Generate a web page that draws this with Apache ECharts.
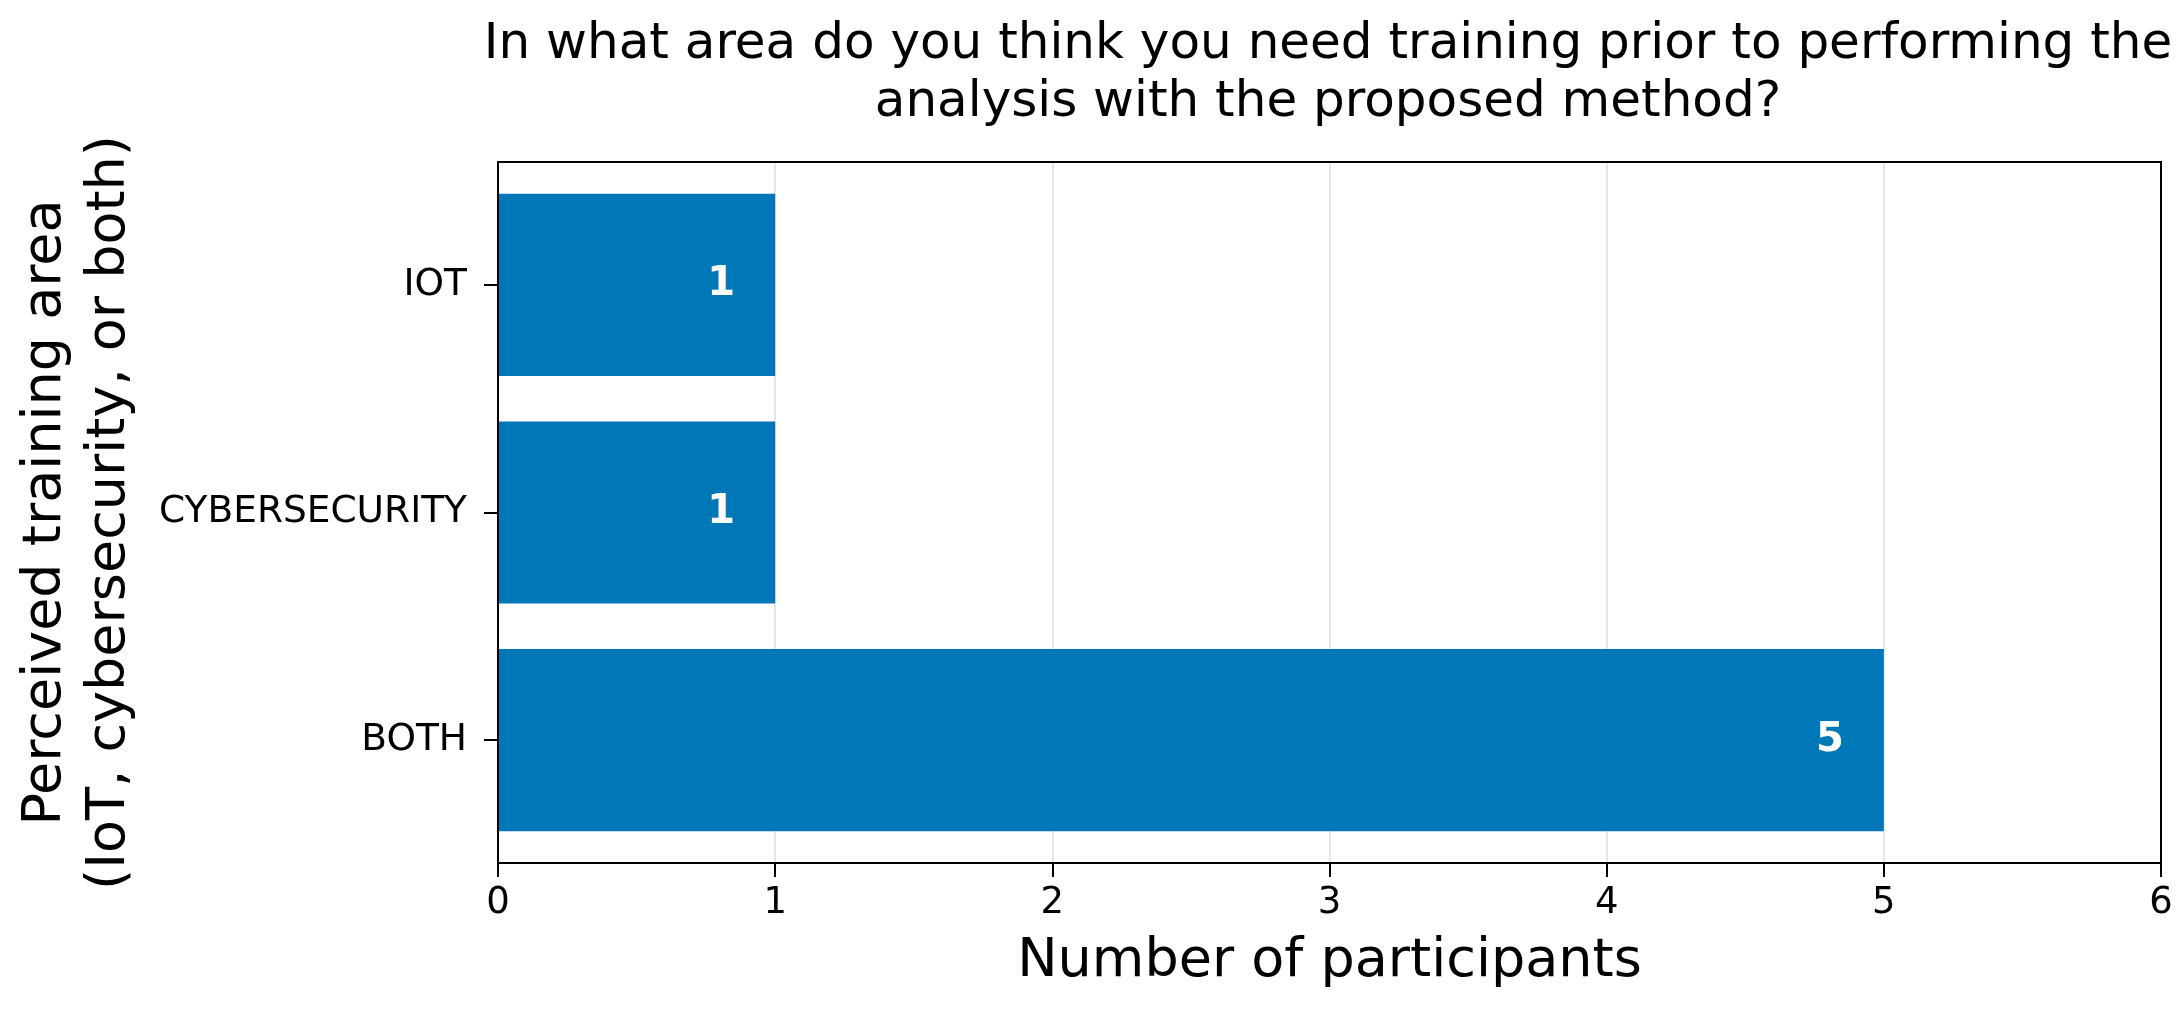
<!DOCTYPE html>
<html>
<head>
<meta charset="utf-8">
<script src="https://cdn.jsdelivr.net/npm/echarts@6/dist/echarts.min.js"></script>
<style>
  html, body { margin: 0; padding: 0; background: #fff; }
  #chart { width: 2183px; height: 1016px; }
</style>
</head>
<body>
<div id="chart"></div>
<script>
// categories from bottom to top
const areas = ['BOTH', 'CYBERSECURITY', 'IOT']
const participants = [5, 1, 1]
const xTicks = [0, 1, 2, 3, 4, 5, 6]

const titleText = 'In what area do you think you need training prior to performing the\nanalysis with the proposed method?'
const xName = 'Number of participants'
const yName = 'Perceived training area\n(IoT, cybersecurity, or both)'

const font = 'DejaVu Sans'
const chart = echarts.init(document.getElementById('chart'))

const option = {
  backgroundColor: '#fff',
  animation: false,
  title: {
    text: titleText,
    left: 1328,
    top: 16,
    padding: 0,
    textAlign: 'center',
    textStyle: { fontFamily: font, fontSize: 50, fontWeight: 'normal', color: '#000', lineHeight: 58 }
  },
  grid: [
    // outer frame, x axis and grid lines
    { left: 498, right: 22, top: 162, bottom: 153, show: true, borderColor: '#000', borderWidth: 2, backgroundColor: 'transparent', z: 3 },
    // bar area (matplotlib margins inside the frame)
    { left: 498, right: 22, top: 171, bottom: 162 }
  ],
  xAxis: [
    {
      gridIndex: 0,
      type: 'value',
      min: xTicks[0],
      max: xTicks[xTicks.length - 1],
      interval: 1,
      name: xName,
      nameLocation: 'middle',
      nameGap: 72,
      nameTextStyle: { fontFamily: font, fontSize: 54, color: '#000' },
      axisLine: { show: true, lineStyle: { color: '#000', width: 2 } },
      axisTick: { show: true, length: 14, lineStyle: { color: '#000', width: 2 } },
      axisLabel: { margin: 22, fontFamily: font, fontSize: 37, color: '#000' },
      splitLine: { show: true, showMinLine: false, showMaxLine: false, lineStyle: { color: '#e6e6e6', width: 2 } }
    },
    {
      gridIndex: 1,
      type: 'value',
      min: xTicks[0],
      max: xTicks[xTicks.length - 1],
      show: false
    }
  ],
  yAxis: [
    { gridIndex: 0, type: 'value', min: 0, max: 1, show: false },
    {
      gridIndex: 1,
      type: 'category',
      data: areas,
      name: yName,
      nameLocation: 'middle',
      nameRotate: 90,
      nameGap: 356,
      nameTextStyle: { fontFamily: font, fontSize: 54, color: '#000', lineHeight: 64, align: 'center' },
      axisLine: { show: false },
      axisTick: { show: true, alignWithLabel: true, length: 14, lineStyle: { color: '#000', width: 2 } },
      axisLabel: { margin: 31, fontFamily: font, fontSize: 37.5, color: '#000' },
      splitLine: { show: false }
    }
  ],
  series: [
    {
      type: 'bar',
      xAxisIndex: 1,
      yAxisIndex: 1,
      data: participants,
      barCategoryGap: '20%',
      itemStyle: { color: '#0077b6' },
      label: {
        show: true,
        position: 'insideRight',
        distance: 40,
        fontFamily: font,
        fontSize: 40,
        fontWeight: 'bold',
        color: '#fff'
      }
    }
  ]
}

chart.setOption(option)
</script>
</body>
</html>
